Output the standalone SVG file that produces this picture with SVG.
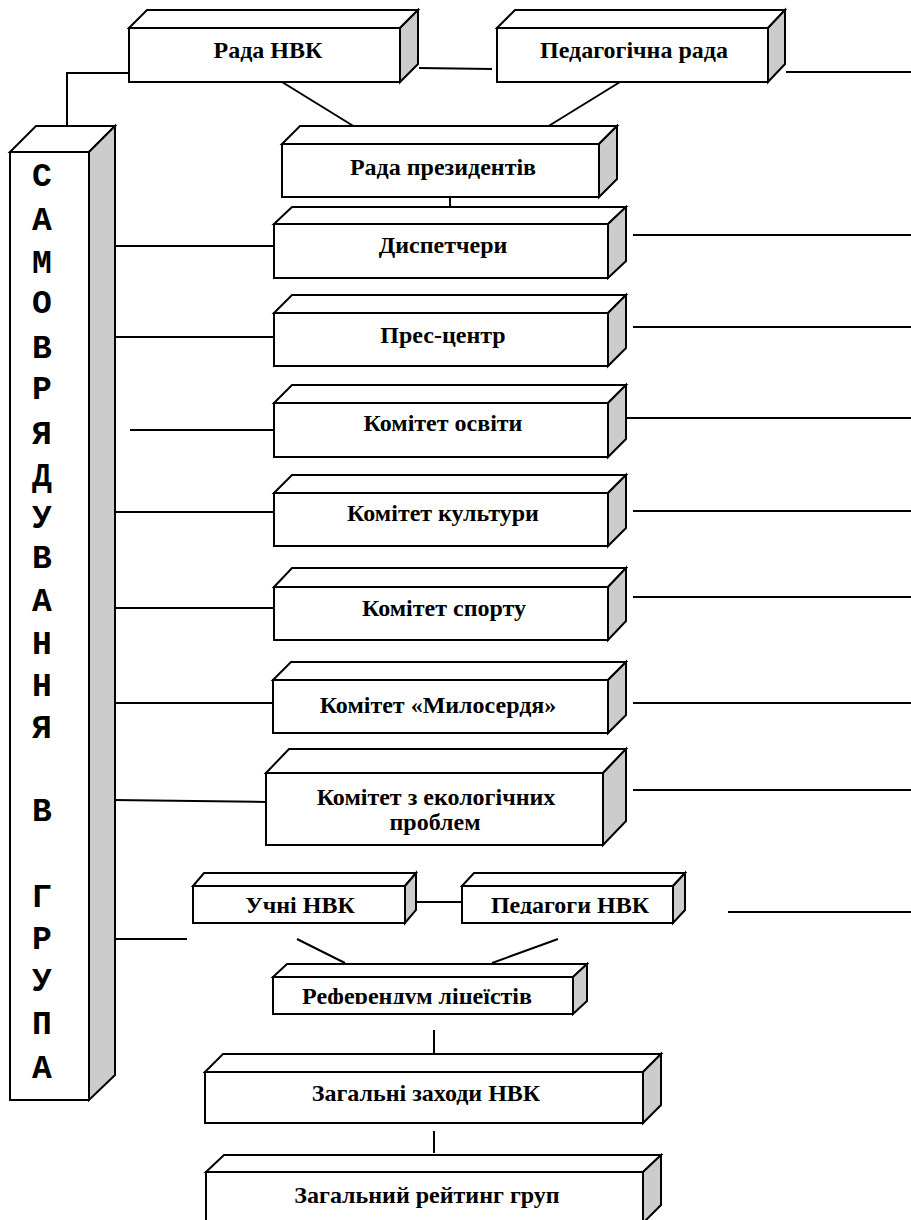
<svg xmlns="http://www.w3.org/2000/svg" width="911" height="1220" viewBox="0 0 911 1220">
<style>
.f{fill:#fff;stroke:#000;stroke-width:2;stroke-linejoin:miter}
.s{fill:#cccccc;stroke:#000;stroke-width:2;stroke-linejoin:miter}
.t{font-family:'Liberation Serif','Times New Roman',serif;font-weight:bold;font-size:24px;text-anchor:middle;fill:#000}
.c{font-family:'Liberation Mono','Courier New',monospace;font-weight:bold;font-size:33px;text-anchor:middle;fill:#000}
.ln{stroke:#000;stroke-width:2;fill:none}
</style>
<defs>
<clipPath id="clipRef"><rect x="273" y="960" width="300" height="44"/></clipPath>
<clipPath id="clipPed"><rect x="462" y="880" width="211" height="34"/></clipPath>
</defs>
<rect width="911" height="1220" fill="#fff"/>

<g id="connectors">
<polyline class="ln" points="129,73 67,73 67,137"/>
<line class="ln" x1="419" y1="68" x2="492" y2="69"/>
<line class="ln" x1="786" y1="72" x2="911" y2="72"/>
<line class="ln" x1="282" y1="82" x2="355" y2="127"/>
<line class="ln" x1="620" y1="82" x2="547" y2="127"/>
<line class="ln" x1="450" y1="197" x2="450" y2="224"/>
<line class="ln" x1="115" y1="246" x2="283" y2="246"/>
<line class="ln" x1="113" y1="337" x2="274" y2="337"/>
<line class="ln" x1="130" y1="430" x2="274" y2="430"/>
<line class="ln" x1="115" y1="512" x2="274" y2="512"/>
<line class="ln" x1="115" y1="608" x2="274" y2="608"/>
<line class="ln" x1="115" y1="703" x2="273" y2="703"/>
<line class="ln" x1="113" y1="800" x2="266" y2="802"/>
<line class="ln" x1="113" y1="939" x2="187" y2="939"/>
<line class="ln" x1="633" y1="235" x2="911" y2="235"/>
<line class="ln" x1="633" y1="327" x2="911" y2="327"/>
<line class="ln" x1="627" y1="418" x2="911" y2="418"/>
<line class="ln" x1="633" y1="511" x2="911" y2="511"/>
<line class="ln" x1="633" y1="597" x2="911" y2="597"/>
<line class="ln" x1="633" y1="703" x2="911" y2="703"/>
<line class="ln" x1="633" y1="790" x2="911" y2="790"/>
<line class="ln" x1="417" y1="902" x2="461" y2="902"/>
<line class="ln" x1="728" y1="912" x2="911" y2="912"/>
<line class="ln" x1="297" y1="939" x2="345" y2="963"/>
<line class="ln" x1="558" y1="939" x2="492" y2="963"/>
<line class="ln" x1="434" y1="1030" x2="434" y2="1054"/>
<line class="ln" x1="434" y1="1131" x2="434" y2="1153"/>
</g>

<g id="column">
<polygon class="f" points="10,152 36,126 115,126 89,152"/>
<polygon class="s" points="89,152 115,126 115,1075 89,1100"/>
<rect class="f" x="10" y="152" width="79" height="948"/>
<text class="c" x="42" y="186">С</text>
<text class="c" x="42" y="230">А</text>
<text class="c" x="42" y="273">М</text>
<text class="c" x="42" y="313">О</text>
<text class="c" x="42" y="358">В</text>
<text class="c" x="42" y="399">Р</text>
<text class="c" x="42" y="444">Я</text>
<text class="c" x="42" y="486">Д</text>
<text class="c" x="42" y="528">У</text>
<text class="c" x="42" y="568">В</text>
<text class="c" x="42" y="611">А</text>
<text class="c" x="42" y="654">Н</text>
<text class="c" x="42" y="696">Н</text>
<text class="c" x="42" y="738">Я</text>
<text class="c" x="42" y="821">В</text>
<text class="c" x="42" y="907">Г</text>
<text class="c" x="42" y="949">Р</text>
<text class="c" x="42" y="991">У</text>
<text class="c" x="42" y="1034">П</text>
<text class="c" x="42" y="1078">А</text>
</g>

<g id="rada-nvk">
<polygon class="f" points="129,28 147,10 418,10 400,28"/>
<polygon class="s" points="400,28 418,10 418,64 400,82"/>
<rect class="f" x="129" y="28" width="271" height="54"/>
<text class="t" x="268" y="58">Рада НВК</text>
</g>

<g id="ped-rada">
<polygon class="f" points="497,28 515,10 785,10 768,28"/>
<polygon class="s" points="768,28 785,10 785,64 768,82"/>
<rect class="f" x="497" y="28" width="271" height="54"/>
<text class="t" x="634" y="58">Педагогічна рада</text>
</g>

<g id="rada-prez">
<polygon class="f" points="282,144 300,126 617,126 599,144"/>
<polygon class="s" points="599,144 617,126 617,179 599,197"/>
<rect class="f" x="282" y="144" width="317" height="53"/>
<text class="t" x="443" y="175">Рада президентів</text>
</g>

<g id="dyspetchery">
<polygon class="f" points="274,224 292,207 626,207 608,224"/>
<polygon class="s" points="608,224 626,207 626,261 608,278"/>
<rect class="f" x="274" y="224" width="334" height="54"/>
<text class="t" x="443" y="253">Диспетчери</text>
</g>

<g id="pres-tsentr">
<polygon class="f" points="274,313 292,295 626,295 608,313"/>
<polygon class="s" points="608,313 626,295 626,348 608,366"/>
<rect class="f" x="274" y="313" width="334" height="53"/>
<text class="t" x="443" y="343">Прес-центр</text>
</g>

<g id="osvity">
<polygon class="f" points="274,403 292,385 626,385 608,403"/>
<polygon class="s" points="608,403 626,385 626,439 608,457"/>
<rect class="f" x="274" y="403" width="334" height="54"/>
<text class="t" x="443" y="431">Комітет освіти</text>
</g>

<g id="kultury">
<polygon class="f" points="274,493 292,475 626,475 608,493"/>
<polygon class="s" points="608,493 626,475 626,528 608,546"/>
<rect class="f" x="274" y="493" width="334" height="53"/>
<text class="t" x="443" y="521">Комітет культури</text>
</g>

<g id="sportu">
<polygon class="f" points="274,587 292,568 626,568 608,587"/>
<polygon class="s" points="608,587 626,568 626,621 608,640"/>
<rect class="f" x="274" y="587" width="334" height="53"/>
<text class="t" x="444" y="616">Комітет спорту</text>
</g>

<g id="myloserdia">
<polygon class="f" points="273,680 291,662 626,662 608,680"/>
<polygon class="s" points="608,680 626,662 626,715 608,733"/>
<rect class="f" x="273" y="680" width="335" height="53"/>
<text class="t" x="438" y="713">Комітет «Милосердя»</text>
</g>

<g id="ekologiia">
<polygon class="f" points="266,773 289,749 626,749 603,773"/>
<polygon class="s" points="603,773 626,749 626,821 603,845"/>
<rect class="f" x="266" y="773" width="337" height="72"/>
<text class="t" x="436" y="805">Комітет з екологічних</text>
<text class="t" x="435" y="830">проблем</text>
</g>

<g id="uchni">
<polygon class="f" points="193,886 204,873 416,873 405,886"/>
<polygon class="s" points="405,886 416,873 416,910 405,923"/>
<rect class="f" x="193" y="886" width="212" height="37"/>
<text class="t" x="300" y="913">Учні НВК</text>
</g>

<g id="pedahohy">
<polygon class="f" points="462,886 474,873 685,873 673,886"/>
<polygon class="s" points="673,886 685,873 685,910 673,923"/>
<rect class="f" x="462" y="886" width="211" height="37"/>
<text class="t" x="570" y="913" clip-path="url(#clipPed)">Педагоги НВК</text>
</g>

<g id="referendum">
<polygon class="f" points="273,977 287,964 587,964 573,977"/>
<polygon class="s" points="573,977 587,964 587,1001 573,1014"/>
<rect class="f" x="273" y="977" width="300" height="37"/>
<text class="t" x="417" y="1004" clip-path="url(#clipRef)">Референдум ліцеїстів</text>
</g>

<g id="zakhody">
<polygon class="f" points="205,1072 223,1054 661,1054 643,1072"/>
<polygon class="s" points="643,1072 661,1054 661,1105 643,1123"/>
<rect class="f" x="205" y="1072" width="438" height="51"/>
<text class="t" x="426" y="1101">Загальні заходи НВК</text>
</g>

<g id="reityng">
<polygon class="f" points="206,1172 224,1155 661,1155 643,1172"/>
<polygon class="s" points="643,1172 661,1155 661,1205 643,1223"/>
<rect class="f" x="206" y="1172" width="437" height="53"/>
<text class="t" x="427" y="1203">Загальний рейтинг груп</text>
</g>
</svg>
